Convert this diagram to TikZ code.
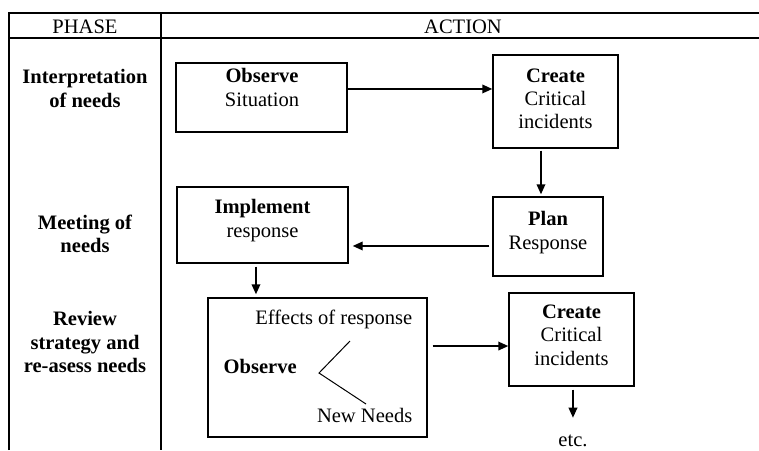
\documentclass[tikz,border=0pt]{standalone}
\usepackage{fontspec}
\setmainfont{Liberation Serif}
\usetikzlibrary{arrows.meta}
\tikzset{every picture/.style={line width=1.1pt}}
\tikzset{
  box/.style={draw, rectangle, inner sep=0pt},
  txt/.style={inner sep=0pt, align=center, anchor=north, font=\fontsize{15.4pt}{17.5pt}\selectfont},
  phasetxt/.style={txt, font=\fontsize{15.4pt}{17.5pt}\selectfont\bfseries},
  arr/.style={-{Triangle[length=7.5pt,width=6.5pt]}}
}

\begin{document}
\begin{tikzpicture}[x=0.75pt,y=0.75pt,yscale=-1,xscale=1]
\useasboundingbox (0,0) rectangle (759,450);

%Table lines
\coordinate (tl) at (9,13);
\draw (9,450) -- (tl) -- (759,13) ;
\draw (9,38) -- (759,38) ;
\draw (161,13) -- (161,450) ;

% Text Node
\node[txt, anchor=base] (phase) at (85,33) {PHASE};
% Text Node
\node[txt, anchor=base] (action) at (463,33) {ACTION};
% Text Node
\node[phasetxt] (ph1) at (85,69) {Interpretation\\of needs};
% Text Node
\node[phasetxt] (ph2) at (85,214) {Meeting of\\needs};
% Text Node
\node[phasetxt] (ph3) at (85,311) {Review\\strategy and\\re-asess needs};

%Shape: Rectangle
\node[box, minimum width=128.25pt, minimum height=51.75pt] (obsbox) at (261.5,97.5) {};
%Shape: Rectangle
\node[box, minimum width=93.75pt, minimum height=69.75pt] (crbox) at (555.5,101.5) {};
%Shape: Rectangle
\node[box, minimum width=82.5pt, minimum height=59.25pt] (planbox) at (548,236.5) {};
%Shape: Rectangle
\node[box, minimum width=128.25pt, minimum height=57pt] (implbox) at (262.5,225) {};
%Shape: Rectangle
\node[box, minimum width=164.25pt, minimum height=104.25pt] (effbox) at (317.5,367.5) {};
%Shape: Rectangle
\node[box, minimum width=93.75pt, minimum height=69.75pt] (crboxb) at (571.5,339.5) {};

% Text Node
\node[txt] (obstxt) at (262,68) {\textbf{Observe}\\Situation};
% Text Node
\node[txt] (crtxt) at (555.5,68) {\textbf{Create}\\Critical\\incidents};
% Text Node
\node[txt] (plantxt) at (548,211) {\textbf{Plan}\\Response};
% Text Node
\node[txt] (impltxt) at (262.5,199) {\textbf{Implement}\\response};
% Text Node
\node[txt] (crtxtb) at (571.5,304) {\textbf{Create}\\Critical\\incidents};
% Text Node
\node[txt, anchor=base east] (efftxt) at (413,324) {Effects of response};
% Text Node
\node[txt, anchor=base west] (obstxtb) at (223,373) {\textbf{Observe}};
% Text Node
\node[txt, anchor=base east] (newtxt) at (413,422) {New Needs};
% Text Node
\node[txt, anchor=base] (etc) at (573,446) {etc.};

%Straight Lines
\draw [line width=0.75pt] (350,341) -- (319,373) -- (366,404) ;

%Straight Lines
\draw [arr] ([yshift=-6.4pt]obsbox.east) -- ([yshift=-6.4pt]obsbox.east -| crbox.west) ;
%Straight Lines
\draw [arr, shorten <=1.5pt, shorten >=1.5pt] ([xshift=-10.9pt]crbox.south) -- ([xshift=-10.9pt]crbox.south |- planbox.north) ;
%Straight Lines
\draw [arr, shorten <=2.25pt, shorten >=3pt] ([yshift=7.1pt]planbox.west) -- ([yshift=7.1pt]planbox.west -| implbox.east) ;
%Straight Lines
\draw [arr, shorten <=2.25pt, shorten >=2.25pt] ([xshift=-4.9pt]implbox.south) -- ([xshift=-4.9pt]implbox.south |- effbox.north) ;
%Straight Lines
\draw [arr, shorten <=3.75pt] ([yshift=-16.1pt]effbox.east) -- ([yshift=-16.1pt]effbox.east -| crboxb.west) ;
%Straight Lines
\draw [arr, shorten <=2.25pt, shorten >=12pt] ([xshift=1.1pt]crboxb.south) -- ([xshift=1.1pt]crboxb.south |- etc.north) ;

\end{tikzpicture}
\end{document}
